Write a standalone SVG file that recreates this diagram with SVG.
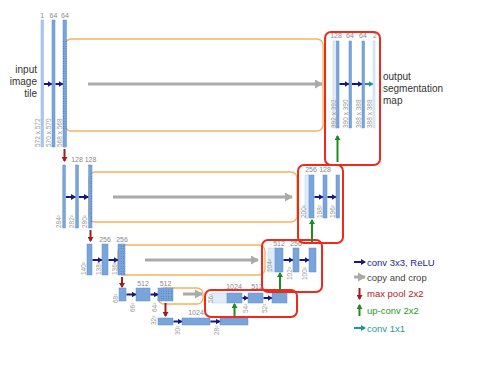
<svg xmlns="http://www.w3.org/2000/svg" width="480" height="375" viewBox="0 0 480 375">
<defs>
<style>
.b{fill:#79a5db;stroke:#5e8ecf;stroke-width:0.5}
.l{fill:#e2ecf8;stroke:#b5cdea;stroke-width:0.5}
.li{fill:#a9c8ee;stroke:#8fb4e2;stroke-width:0.5}
.t{font-family:"Liberation Sans",Arial,sans-serif;font-size:7px;fill:#8a8a8a;text-anchor:middle}
.v{font-family:"Liberation Sans",Arial,sans-serif;font-size:6.5px;fill:#9a9a9a}
.lab{font-family:"Liberation Sans",Arial,sans-serif;font-size:10px;fill:#333}
.lg{font-family:"Liberation Sans",Arial,sans-serif;font-size:9.5px}
.o{fill:none;stroke:#f8b25e;stroke-width:1.3}
.r{fill:none;stroke:#ee2a1c;stroke-width:2}
.cv{stroke:#17177f;stroke-width:2;marker-end:url(#mb)}
.c1{stroke:#1a9999;stroke-width:2;marker-end:url(#mt)}
.cp{stroke:#aaaaaa;stroke-width:3;marker-end:url(#mg)}
.mp{stroke:#a11d1d;stroke-width:2;marker-end:url(#mr)}
.up{stroke:#1e8c1e;stroke-width:2;marker-end:url(#mu)}
</style>
<pattern id="dots" width="2.5" height="2.5" patternUnits="userSpaceOnUse">
<circle cx="1.25" cy="1.25" r="0.5" fill="#3a5fae"/>
</pattern>
<marker id="mb" markerUnits="userSpaceOnUse" markerWidth="5" markerHeight="6" viewBox="0 0 5 6" refX="4" refY="3" orient="auto"><path d="M0,0L5,3L0,6Z" fill="#17177f"/></marker>
<marker id="mt" markerUnits="userSpaceOnUse" markerWidth="5" markerHeight="6" viewBox="0 0 5 6" refX="4" refY="3" orient="auto"><path d="M0,0L5,3L0,6Z" fill="#1a9999"/></marker>
<marker id="mg" markerUnits="userSpaceOnUse" markerWidth="8" markerHeight="9" viewBox="0 0 8 9" refX="7" refY="4.5" orient="auto"><path d="M0,0L8,4.5L0,9Z" fill="#aaaaaa"/></marker>
<marker id="mr" markerUnits="userSpaceOnUse" markerWidth="5" markerHeight="6" viewBox="0 0 5 6" refX="4" refY="3" orient="auto"><path d="M0,0L5,3L0,6Z" fill="#a11d1d"/></marker>
<marker id="mu" markerUnits="userSpaceOnUse" markerWidth="5" markerHeight="6" viewBox="0 0 5 6" refX="4" refY="3" orient="auto"><path d="M0,0L5,3L0,6Z" fill="#1e8c1e"/></marker>
</defs>
<rect width="480" height="375" fill="#ffffff"/>

<!-- copy and crop boxes -->
<g id="crops">
<rect class="o" x="65" y="39" width="258" height="92" rx="6"/>
<rect class="o" x="89" y="172" width="208" height="50" rx="6"/>
<rect class="o" x="118" y="245" width="147" height="30" rx="6"/>
<rect class="o" x="158" y="288" width="45" height="16" rx="6"/>
</g>

<!-- level 1 encoder -->
<g id="e1a"><rect class="li" x="41" y="20" width="2.5" height="127"/><text class="t" x="42.2" y="18">1</text><text class="v" transform="translate(39.5,147) rotate(-90)">572 x 572</text></g>
<g id="e1b"><rect class="b" x="52" y="20" width="3" height="127"/><text class="t" x="53.5" y="18">64</text><text class="v" transform="translate(50.5,147) rotate(-90)">570 x 570</text></g>
<g id="e1c"><rect class="b" x="63" y="20" width="3.5" height="127"/><rect x="63" y="39" width="4" height="91" fill="url(#dots)"/><text class="t" x="65" y="18">64</text><text class="v" transform="translate(61.5,147) rotate(-90)">568 x 568</text></g>
<g id="input"><text class="lab" x="37" y="73" text-anchor="end">input</text><text class="lab" x="37" y="85" text-anchor="end">image</text><text class="lab" x="37" y="97" text-anchor="end">tile</text></g>

<!-- level 2 encoder -->
<g id="e2a"><rect class="b" x="62.8" y="165" width="2.6" height="63"/><text class="v" transform="translate(61,228) rotate(-90)">284²</text></g>
<g id="e2b"><rect class="b" x="75.7" y="165" width="2.7" height="63"/><text class="t" x="77" y="162">128</text><text class="v" transform="translate(74,228) rotate(-90)">282²</text></g>
<g id="e2c"><rect class="b" x="88.7" y="165" width="3.3" height="63"/><rect x="89" y="172" width="3.5" height="50" fill="url(#dots)"/><text class="t" x="90.5" y="162">128</text><text class="v" transform="translate(87,228) rotate(-90)">280²</text></g>

<!-- level 3 encoder -->
<g id="e3a"><rect class="b" x="87" y="244" width="5" height="31"/><text class="v" transform="translate(85.5,275) rotate(-90)">140²</text></g>
<g id="e3b"><rect class="b" x="102" y="244" width="6" height="31"/><text class="t" x="105" y="242">256</text><text class="v" transform="translate(100.5,275) rotate(-90)">138²</text></g>
<g id="e3c"><rect class="b" x="118" y="244" width="7" height="31"/><rect x="118.5" y="245" width="7" height="30" fill="url(#dots)"/><text class="t" x="122" y="242">256</text><text class="v" transform="translate(116.5,275) rotate(-90)">136²</text></g>

<!-- level 4 encoder -->
<g id="e4a"><rect class="b" x="119" y="288" width="7" height="13"/><text class="v" transform="translate(117.5,303) rotate(-90)">68²</text></g>
<g id="e4b"><rect class="b" x="136" y="288" width="14" height="13"/><text class="t" x="143" y="286">512</text><text class="v" transform="translate(135,312) rotate(-90)">66²</text></g>
<g id="e4c"><rect class="b" x="158" y="288" width="15" height="13"/><rect x="159" y="289" width="14" height="12" fill="url(#dots)"/><text class="t" x="165.5" y="286">512</text><text class="v" transform="translate(157,312) rotate(-90)">64²</text></g>

<!-- level 5 bottom -->
<g id="b5a"><rect class="b" x="158" y="318" width="15" height="7"/><text class="v" transform="translate(155.5,325) rotate(-90)">32²</text></g>
<g id="b5b"><rect class="b" x="182" y="318" width="28" height="7"/><text class="t" x="196" y="315">1024</text><text class="v" transform="translate(180,335) rotate(-90)">30²</text></g>
<g id="b5c"><rect class="b" x="220" y="318" width="28" height="7"/><text class="v" transform="translate(219,335) rotate(-90)">28²</text></g>

<!-- level 4 decoder -->
<g id="d4a"><rect class="l" x="212" y="293" width="15" height="10"/><rect class="b" x="227" y="293" width="15" height="10"/><text class="t" x="234" y="289">1024</text><text class="v" transform="translate(212.5,303) rotate(-90)">56²</text></g>
<g id="d4b"><rect class="b" x="248" y="293" width="15" height="10"/><text class="t" x="257" y="289">512</text><text class="v" transform="translate(247.5,313) rotate(-90)">54²</text></g>
<g id="d4c"><rect class="b" x="272" y="293" width="15" height="10"/><text class="v" transform="translate(267,313) rotate(-90)">52²</text></g>

<!-- level 3 decoder -->
<g id="d3a"><rect class="l" x="268" y="248" width="7" height="24"/><rect class="b" x="275" y="248" width="8" height="24"/><text class="t" x="279" y="246">512</text><text class="v" transform="translate(272,272) rotate(-90)">104²</text></g>
<g id="d3b"><rect class="b" x="293" y="248" width="6" height="24"/><text class="t" x="296" y="246">256</text><text class="v" transform="translate(291.5,280) rotate(-90)">102²</text></g>
<g id="d3c"><rect class="b" x="309" y="248" width="7" height="24"/><text class="v" transform="translate(307,280) rotate(-90)">100²</text></g>

<!-- level 2 decoder -->
<g id="d2a"><rect class="l" x="305" y="175" width="4" height="43"/><rect class="b" x="309" y="175" width="5" height="43"/><text class="t" x="311" y="172">256</text><text class="v" transform="translate(305.5,218) rotate(-90)">200²</text></g>
<g id="d2b"><rect class="b" x="323" y="175" width="4" height="43"/><text class="t" x="325" y="172">128</text><text class="v" transform="translate(322,218) rotate(-90)">198²</text></g>
<g id="d2c"><rect class="b" x="336" y="175" width="3.5" height="43"/><text class="v" transform="translate(334.5,218) rotate(-90)">196²</text></g>

<!-- level 1 decoder -->
<g id="d1a"><rect class="l" x="333" y="41" width="3.5" height="87"/><rect class="b" x="336.5" y="41" width="2.5" height="87"/><text class="t" x="336" y="38">128</text><text class="v" transform="translate(336,128) rotate(-90)">392 x 392</text></g>
<g id="d1b"><rect class="b" x="349" y="41" width="2.5" height="87"/><text class="t" x="350" y="38">64</text><text class="v" transform="translate(347.5,128) rotate(-90)">390 x 390</text></g>
<g id="d1c"><rect class="b" x="362" y="41" width="2.5" height="87"/><text class="t" x="363" y="38">64</text><text class="v" transform="translate(360.5,128) rotate(-90)">388 x 388</text></g>
<g id="d1d"><rect class="l" x="373" y="41" width="2" height="87"/><text class="t" x="375" y="38">2</text><text class="v" transform="translate(372,128) rotate(-90)">388 x 388</text></g>
<g id="output"><text class="lab" x="383" y="80">output</text><text class="lab" x="383" y="92">segmentation</text><text class="lab" x="383" y="104">map</text></g>

<!-- decoder highlight boxes -->
<g id="highlights">
<rect class="r" x="325" y="32" width="55" height="133" rx="6"/>
<rect class="r" x="298" y="165" width="45" height="78" rx="6"/>
<rect class="r" x="262" y="240" width="60" height="52" rx="6"/>
<rect class="r" x="205" y="290" width="92" height="27" rx="6"/>
</g>

<!-- connectors -->
<g id="connectors">
<line class="cp" x1="88" y1="84" x2="322" y2="84"/>
<line class="cp" x1="113" y1="197" x2="292" y2="197"/>
<line class="cp" x1="145" y1="260" x2="258" y2="260"/>
<line class="cp" x1="183" y1="294" x2="202" y2="294"/>

<line class="cv" x1="44" y1="84" x2="51.5" y2="84"/>
<line class="cv" x1="55.5" y1="84" x2="62.5" y2="84"/>
<line class="cv" x1="66" y1="197" x2="75" y2="197"/>
<line class="cv" x1="79" y1="197" x2="88" y2="197"/>
<line class="cv" x1="92.5" y1="260" x2="101.5" y2="260"/>
<line class="cv" x1="108.5" y1="260" x2="117.5" y2="260"/>
<line class="cv" x1="126.5" y1="294.5" x2="135.5" y2="294.5"/>
<line class="cv" x1="150.5" y1="294.5" x2="157.5" y2="294.5"/>
<line class="cv" x1="173.5" y1="321.5" x2="181.5" y2="321.5"/>
<line class="cv" x1="210.5" y1="321.5" x2="219.5" y2="321.5"/>
<line class="cv" x1="242.5" y1="298" x2="247.5" y2="298"/>
<line class="cv" x1="263.5" y1="298" x2="271.5" y2="298"/>
<line class="cv" x1="283.5" y1="260" x2="292.5" y2="260"/>
<line class="cv" x1="299.5" y1="260" x2="308.5" y2="260"/>
<line class="cv" x1="314.5" y1="197" x2="322.5" y2="197"/>
<line class="cv" x1="327.5" y1="197" x2="335.5" y2="197"/>
<line class="cv" x1="339.5" y1="84" x2="348.5" y2="84"/>
<line class="cv" x1="352" y1="84" x2="361.5" y2="84"/>
<line class="c1" x1="365" y1="84" x2="372.5" y2="84"/>

<line class="mp" x1="64.5" y1="149" x2="64.5" y2="161"/>
<line class="mp" x1="90.5" y1="230" x2="90.5" y2="241"/>
<line class="mp" x1="122" y1="277" x2="122" y2="287"/>
<line class="mp" x1="165.5" y1="303" x2="165.5" y2="316"/>

<line class="up" x1="234.5" y1="316" x2="234.5" y2="304"/>
<line class="up" x1="280" y1="291" x2="280" y2="273"/>
<line class="up" x1="312" y1="242" x2="312" y2="220"/>
<line class="up" x1="337.5" y1="162" x2="337.5" y2="136"/>
</g>

<!-- legend -->
<g id="legend">
<line class="cv" x1="354" y1="262" x2="365" y2="262"/>
<text class="lg" x="367" y="265.5" fill="#22229a">conv 3x3, ReLU</text>
<line class="cp" x1="354" y1="277" x2="365" y2="277"/>
<text class="lg" x="367" y="280.5" fill="#444444">copy and crop</text>
<line class="mp" x1="359.5" y1="288" x2="359.5" y2="299"/>
<text class="lg" x="367" y="297" fill="#b22222">max pool 2x2</text>
<line class="up" x1="359.5" y1="316" x2="359.5" y2="305"/>
<text class="lg" x="367" y="314" fill="#2a9a2a">up-conv 2x2</text>
<line class="c1" x1="354" y1="328" x2="365" y2="328"/>
<text class="lg" x="367" y="331.5" fill="#2a9a9a">conv 1x1</text>
</g>
</svg>
